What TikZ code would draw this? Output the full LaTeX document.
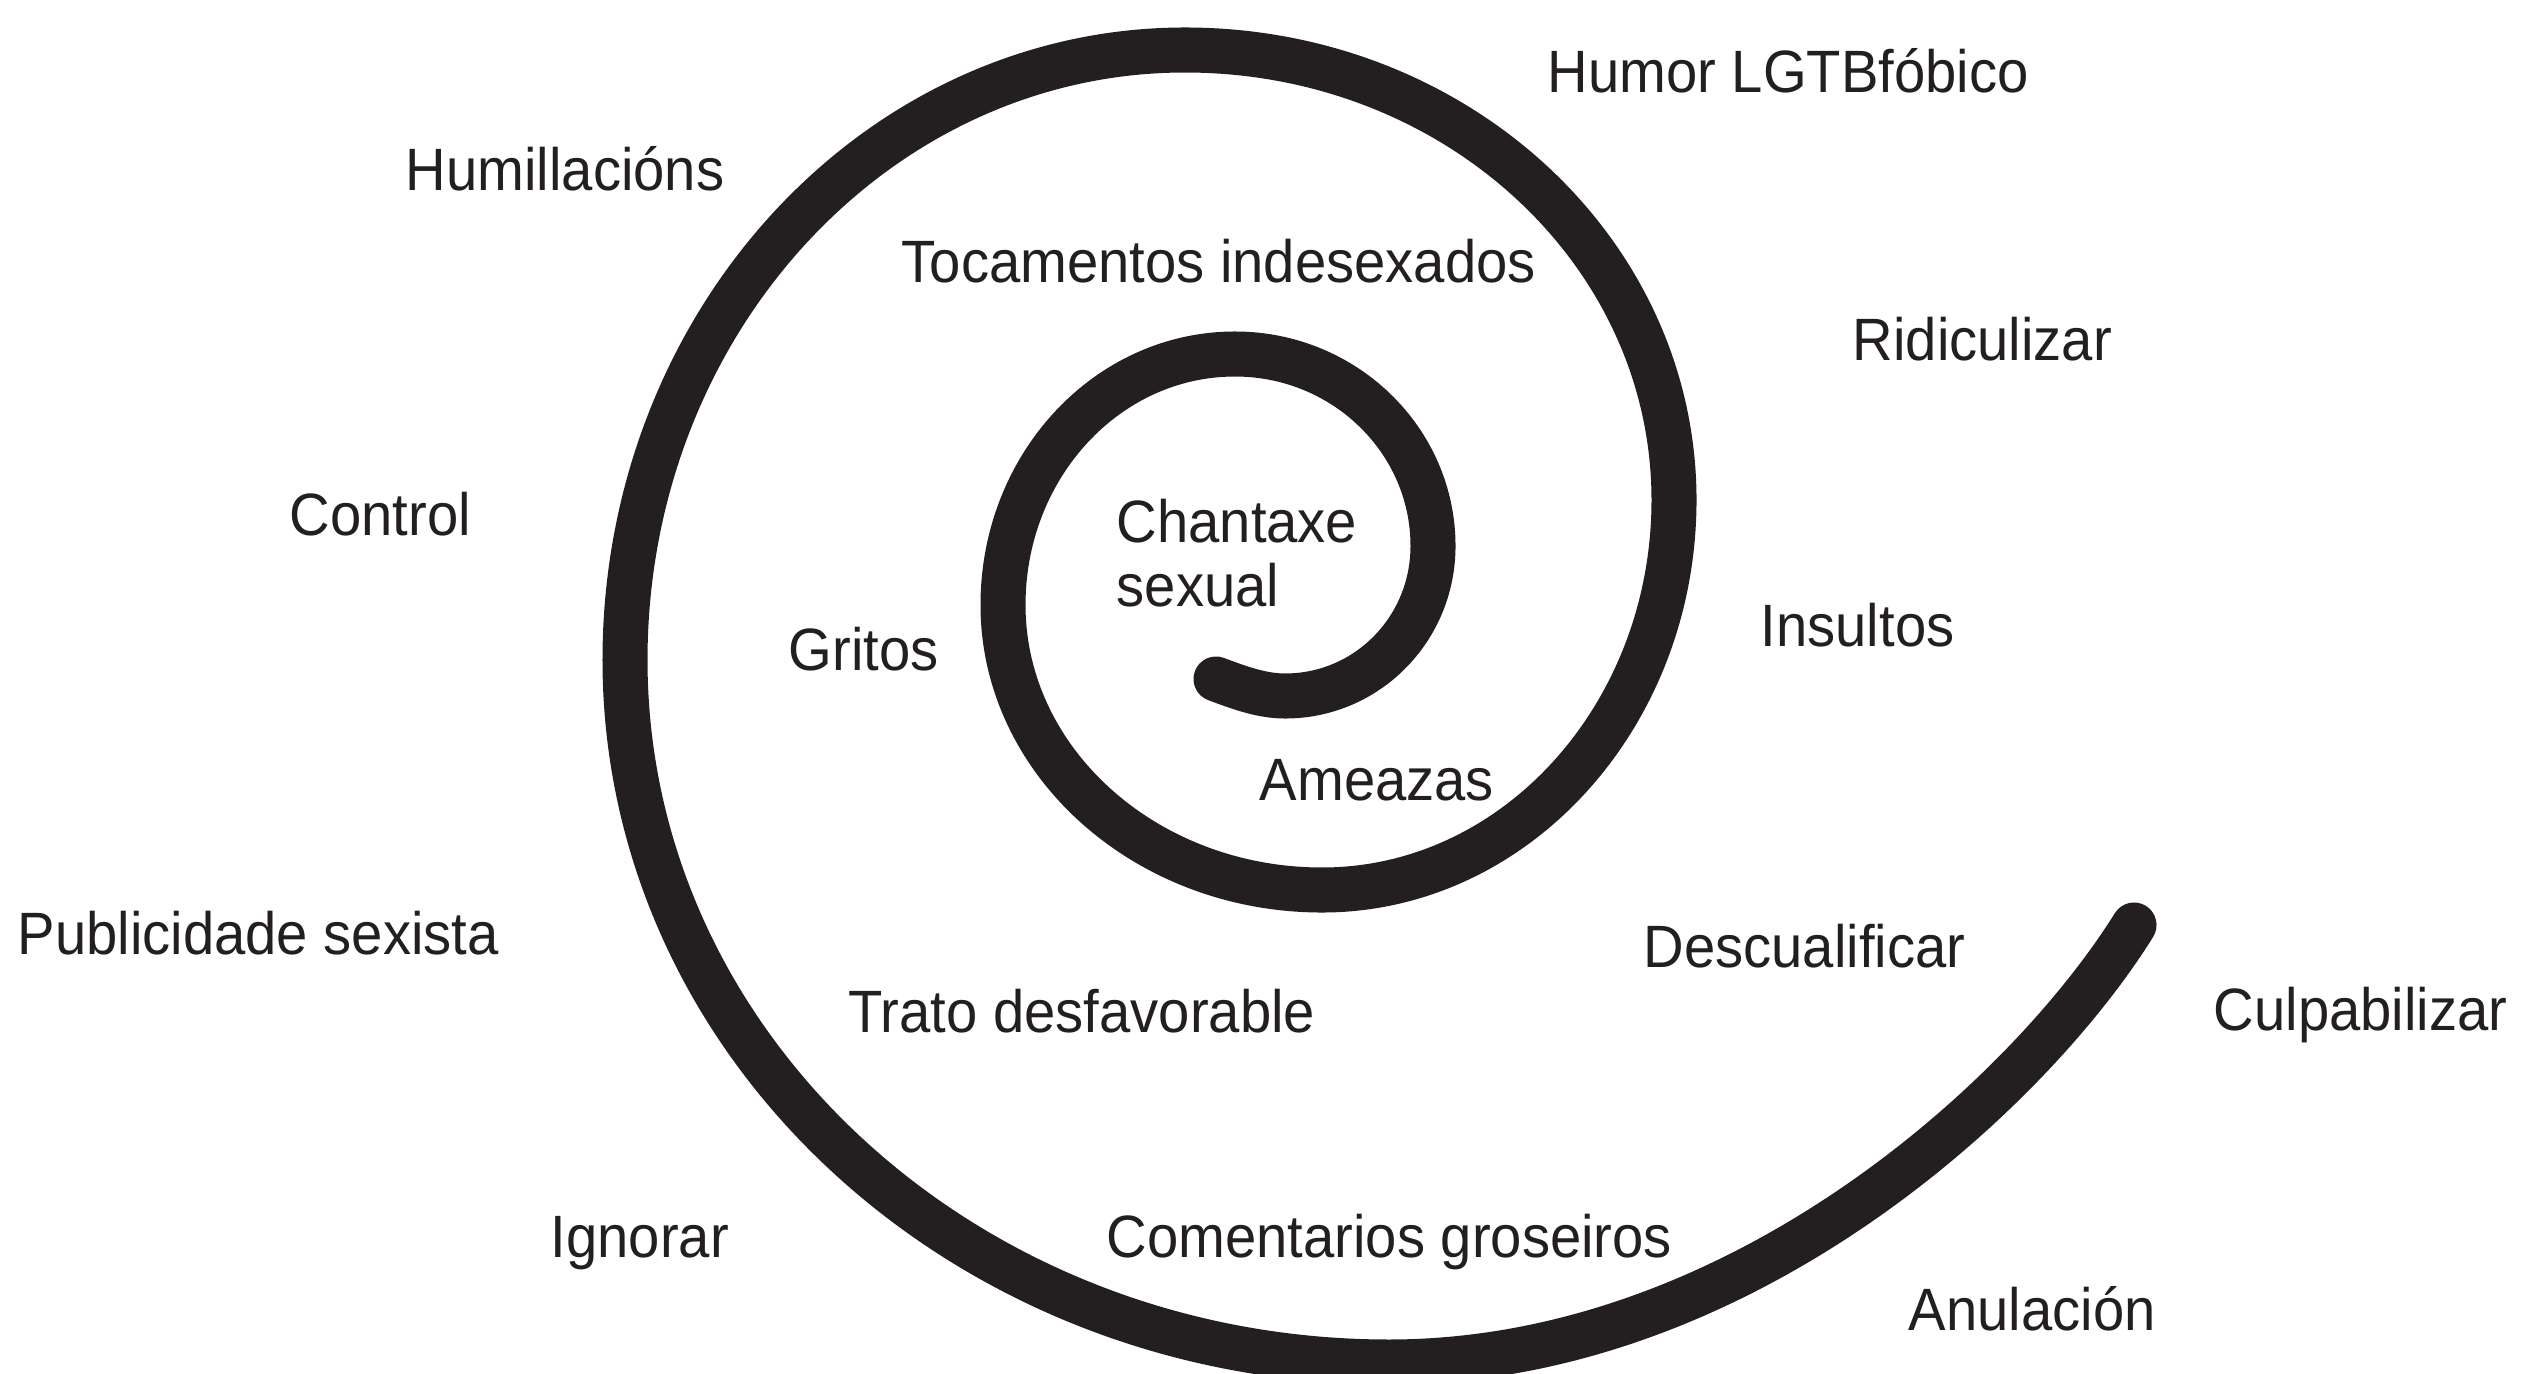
\documentclass[tikz,border=0pt]{standalone}
\usepackage{fontspec}
\setmainfont{Liberation Sans}[FakeStretch=0.94]
\definecolor{ink}{HTML}{231F20}
\begin{document}
\begin{tikzpicture}[x=0.01cm,y=-0.01cm,
  lbl/.style={anchor=base west,inner sep=0pt,text=ink,align=left,font=\fontsize{17}{18.2}\selectfont},
  spiral/.style={draw=ink,line width=0.45cm,line cap=round}]
\useasboundingbox (0,0) rectangle (2528,1373);
\clip (0,0) rectangle (2528,1373);
\fill[white] (0,0) rectangle (2528,1373);
% spiral key points
\coordinate (s0) at (1216,679);
\coordinate (b1) at (1285,696);
\coordinate (r1) at (1433,546);
\coordinate (t1) at (1235,354);
\coordinate (l1) at (1003,605);
\coordinate (b2) at (1322,890);
\coordinate (r2) at (1674,500);
\coordinate (t2) at (1185,50);
\coordinate (l2) at (625,660);
\coordinate (b3) at (1389,1362);
\coordinate (e0) at (2134,925);
\draw[spiral] (s0) .. controls (1240,688) and (1262,696) .. (b1)
  .. controls (1367,696) and (1433,629) .. (r1)
  .. controls (1433,440) and (1344,354) .. (t1)
  .. controls (1107,354) and (1003,466) .. (l1)
  .. controls (1003,762) and (1146,890) .. (b2)
  .. controls (1516,890) and (1674,715) .. (r2)
  .. controls (1674,251) and (1455,50) .. (t2)
  .. controls (876,50) and (625,323) .. (l2)
  .. controls (625,1048) and (967,1362) .. (b3)
  .. controls (1739,1362) and (2028,1095) .. (e0);
% labels
\node[lbl] (humor) at (1547,93) {Humor LGTBfóbico};
\node[lbl] (humill) at (405,190) {Humillacións};
\node[lbl] (tocam) at (901,282) {Tocamentos indesexados};
\node[lbl] (ridic) at (1852,360) {Ridiculizar};
\node[lbl] (control) at (289,535) {Control};
\node[lbl] (chant) at (1116,606) {Chantaxe\\sexual};
\node[lbl] (gritos) at (788,670) {Gritos};
\node[lbl] (insult) at (1760,646) {Insultos};
\node[lbl] (ameaz) at (1259,800) {Ameazas};
\node[lbl] (public) at (17,954) {Publicidade sexista};
\node[lbl] (descual) at (1643,967) {Descualificar};
\node[lbl] (culpab) at (2213,1030) {Culpabilizar};
\node[lbl] (trato) at (848,1032) {Trato desfavorable};
\node[lbl] (ignorar) at (550,1257) {Ignorar};
\node[lbl] (coment) at (1106,1257) {Comentarios groseiros};
\node[lbl] (anul) at (1908,1330) {Anulación};
\end{tikzpicture}
\end{document}
